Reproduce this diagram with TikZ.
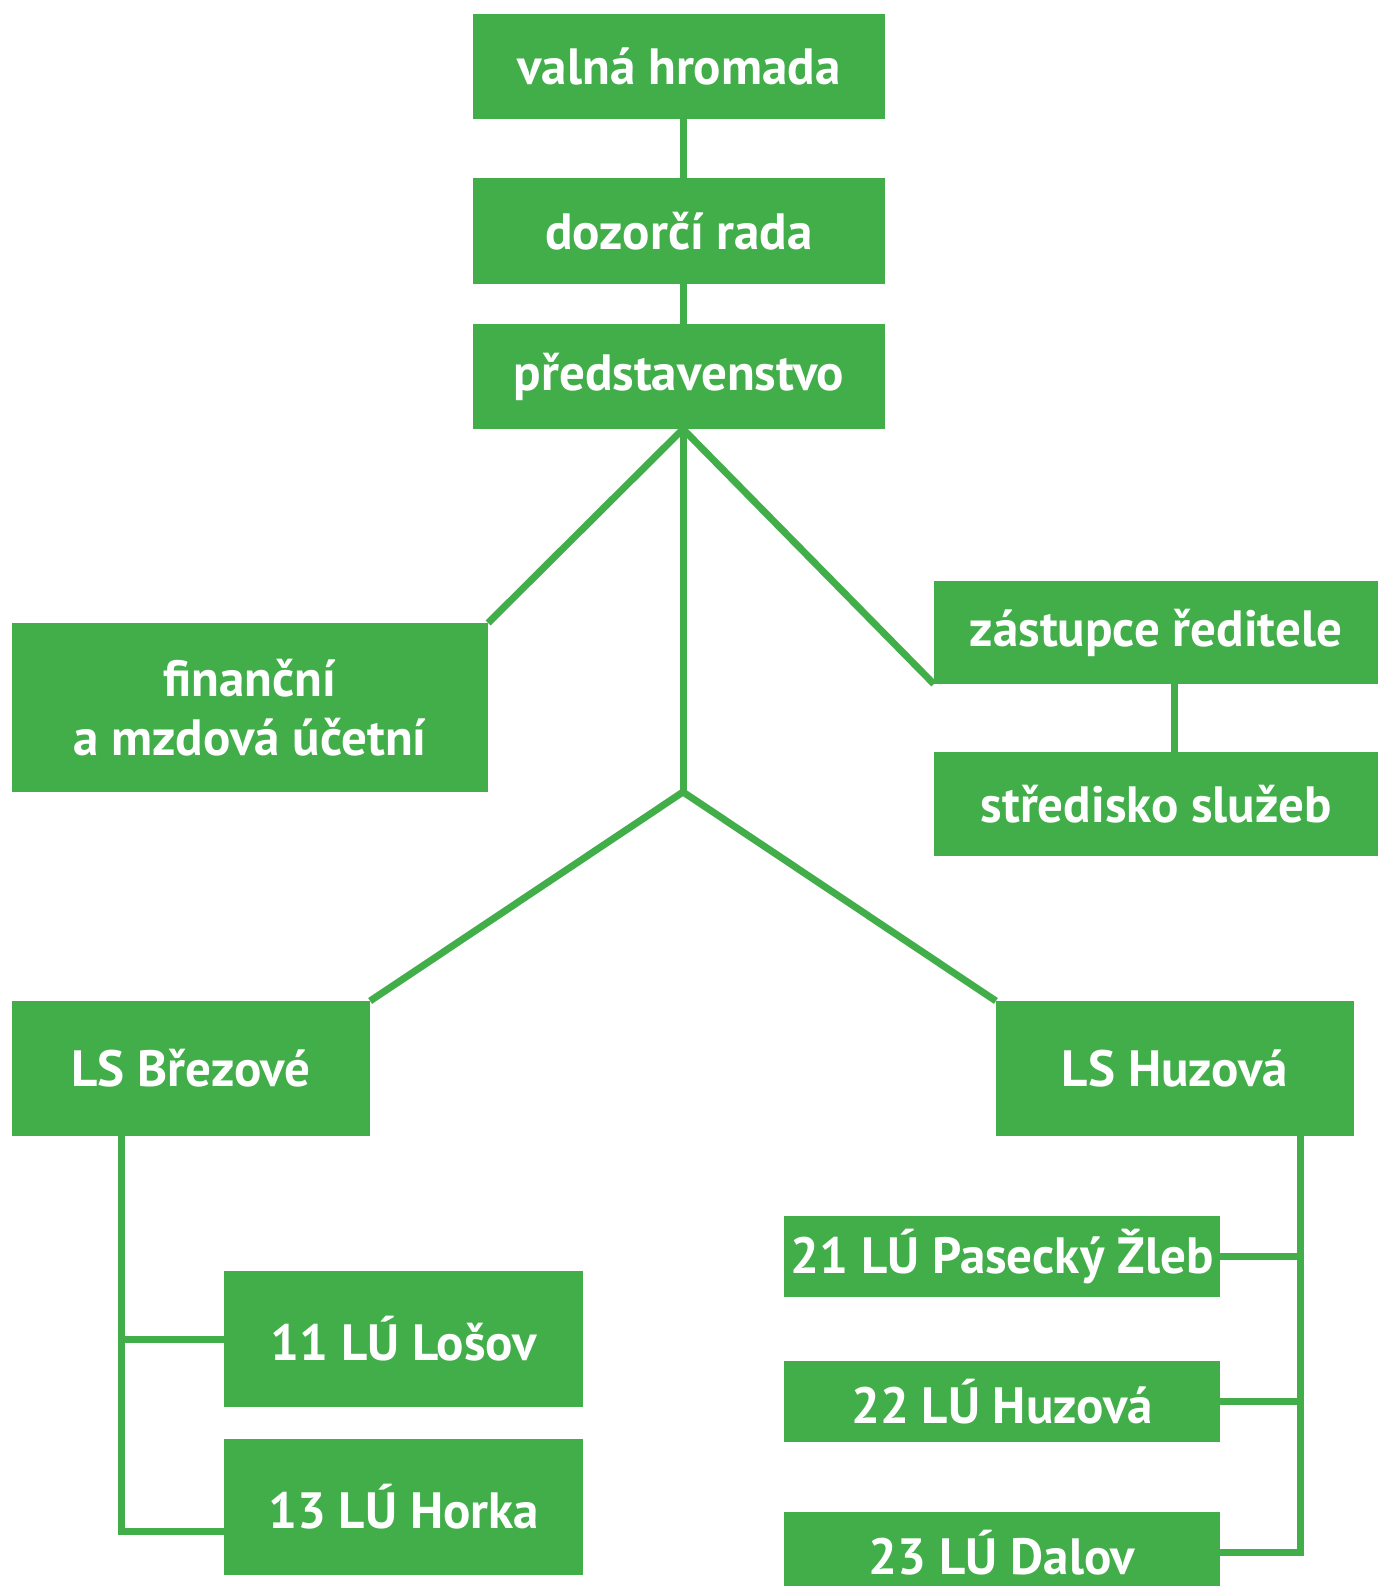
\documentclass[tikz,border=0pt]{standalone}
\usepackage{fontspec}
\setmainfont{PT Sans}
\usetikzlibrary{positioning}
\definecolor{lesgreen}{RGB}{66,174,74}

\begin{document}
\begin{tikzpicture}[
  x=0.01cm, y=-0.01cm,
  line width=0.07cm, draw=lesgreen,
  box/.style = {fill=lesgreen,text=white,inner sep=0pt,outer sep=0pt,align=center,
    font=\fontsize{14.5}{16.8}\selectfont\bfseries},
  ]
	\useasboundingbox (0,0) rectangle (1378,1586);

	% vedeni
	\node[box,minimum width=4.12cm,minimum height=1.05cm] (vh) at (679,66.5) {valná hromada};
	\node[box,minimum width=4.12cm,minimum height=1.06cm] (dr) at (679,231) {dozorčí rada};
	\node[box,minimum width=4.12cm,minimum height=1.05cm] (ps) at (679,376.5) {představenstvo};

	\node[box,minimum width=4.76cm,minimum height=1.69cm] (fin) at (250,707.5) {finanční\\a mzdová účetní};
	\node[box,minimum width=4.44cm,minimum height=1.03cm] (zr) at (1156,632.5) {zástupce ředitele};
	\node[box,minimum width=4.44cm,minimum height=1.04cm] (ss) at (1156,804) {středisko služeb};

	% lesni sprava
	\node[box,minimum width=3.58cm,minimum height=1.35cm] (lsb) at (191,1068.5) {LS Březové};
	\node[box,minimum width=3.58cm,minimum height=1.35cm] (lsh) at (1175,1068.5) {LS Huzová};

	\node[box,minimum width=3.59cm,minimum height=1.36cm] (l11) at (403.5,1339) {11 LÚ Lošov};
	\node[box,minimum width=3.59cm,minimum height=1.36cm] (l13) at (403.5,1507) {13 LÚ Horka};

	\node[box,minimum width=4.36cm,minimum height=0.81cm] (l21) at (1002,1256.5) {21 LÚ Pasecký Žleb};
	\node[box,minimum width=4.36cm,minimum height=0.81cm] (l22) at (1002,1401.5) {22 LÚ Huzová};
	\node[box,minimum width=4.36cm,minimum height=0.81cm] (l23) at (1002,1552.5) {23 LÚ Dalov};

	\coordinate (@j) at (683,792);
	\coordinate (@z) at (1174,700);
	\coordinate (@lb) at (121,1200);
	\coordinate (@rb) at (1300,1200);

	\draw (@j |- vh.south) -- (@j |- dr.north);
	\draw (@j |- dr.south) -- (@j |- ps.north);
	\draw (@j |- ps.south) -- (@j);
	\draw (@j |- ps.south) -- (fin.north east);
	\draw (@j |- ps.south) -- (zr.south west);
	\draw (@z |- zr.south) -- (@z |- ss.north);

	\draw (@j) -- (lsb.north east);
	\draw (@j) -- (lsh.north west);

	\draw (lsb.south -| @lb) |- ([yshift=-0.24cm]l13.west);
	\draw (@lb |- l11.west) -- (l11.west);

	\draw (lsh.south -| @rb) |- (l23.east);
	\draw (l21.east) -- (l21.east -| @rb);
	\draw (l22.east) -- (l22.east -| @rb);

\end{tikzpicture}
\end{document}
